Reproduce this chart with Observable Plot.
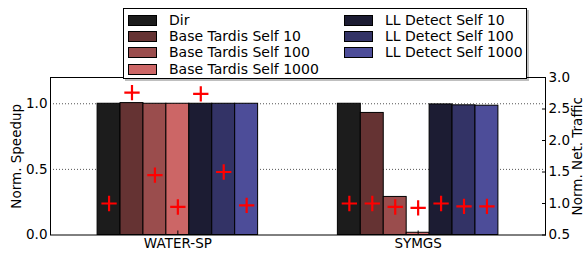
<!DOCTYPE html>
<html><head><meta charset="utf-8">
<script src="https://cdn.jsdelivr.net/npm/d3@7"></script>
<script src="https://cdn.jsdelivr.net/npm/@observablehq/plot@0.6"></script>
<style>
body{margin:0;background:#fff;}
#wrap{position:relative;width:584px;height:253px;font-family:"DejaVu Sans";}
#axes,#bars{position:absolute;left:0;top:0;}
#legend{position:absolute;left:123px;top:8px;width:402px;height:69px;border:1px solid #000;background:#fff;box-shadow:2px 2px 0 rgba(0,0,0,0.25);font-size:14px;color:#000;}
.item{position:absolute;height:16px;line-height:16px;white-space:nowrap;}
.sw{position:absolute;left:0;top:3px;width:27px;height:9px;border:1px solid #000;}
.lab{position:absolute;left:41px;top:0;}
</style></head><body><div id="wrap"><div id="axes"></div><div id="bars"></div><div id="legend"></div></div>
<script>
const groups = ["WATER-SP", "SYMGS"];
const series = ["Dir", "Base Tardis Self 10", "Base Tardis Self 100", "Base Tardis Self 1000", "LL Detect Self 10", "LL Detect Self 100", "LL Detect Self 1000"];
const colors = ["#1c1c1c", "#653333", "#9a4d4d", "#cc6666", "#1c1c33", "#333366", "#4d4d99"];
const speedupWater = [1.0, 1.005, 1.0, 1.0, 1.0, 1.0, 1.0];
const speedupSymgs = [1.0, 0.93, 0.29, 0.017, 0.995, 0.988, 0.985];
const trafficWater = [1.0, 2.76, 1.45, 0.945, 2.74, 1.50, 0.97];
const trafficSymgs = [1.0, 1.0, 0.945, 0.93, 1.0, 0.955, 0.955];
const leftTicks = [0.0, 0.5, 1.0];
const gridTicks = [0.5, 1.0];
const rightTicks = [0.5, 1.0, 1.5, 2.0, 2.5, 3.0];
const leftDomain = [0, 1.2];
const rightDomain = [0.5, 3.0];

const speedup = [speedupWater, speedupSymgs];
const traffic = [trafficWater, trafficSymgs];
const toLeft = t => (t - rightDomain[0]) / (rightDomain[1] - rightDomain[0]) * (leftDomain[1] - leftDomain[0]) + leftDomain[0];
const fromLeft = v => (v - leftDomain[0]) / (leftDomain[1] - leftDomain[0]) * (rightDomain[1] - rightDomain[0]) + rightDomain[0];

const rows = [];
groups.forEach((g, gi) => series.forEach((s, si) => rows.push({group: g, series: s, speedup: speedup[gi][si], traffic: traffic[gi][si]})));

const dims = {width: 584, height: 253, marginLeft: 50, marginRight: 39, marginTop: 77, marginBottom: 18.5};
const style = {fontFamily: "DejaVu Sans", fontSize: "13.5px", background: "transparent", overflow: "visible", color: "#000"};

// frame, grid and both y axes
const axes = Plot.plot({
  ...dims, style,
  y: {domain: leftDomain},
  marks: [
    Plot.ruleY(gridTicks, {stroke: "#555", strokeDasharray: "1,2"}),
    Plot.axisY({anchor: "left", ticks: leftTicks, tickFormat: ".1f", tickSize: 0, tickPadding: 3, label: "Norm. Speedup", labelArrow: "none", labelAnchor: "center", labelOffset: 39}),
    Plot.axisY({anchor: "right", ticks: rightTicks.map(toLeft), tickFormat: v => fromLeft(v).toFixed(1), tickSize: -4, tickPadding: 7, label: "Norm. Net. Traffic", labelArrow: "none", labelAnchor: "center", labelOffset: 36}),
    Plot.frame({stroke: "#000"})
  ]
});
document.getElementById("axes").appendChild(axes);

// grouped bars and traffic crosses
const bars = Plot.plot({
  ...dims, style,
  fx: {domain: groups, paddingInner: 0.332, paddingOuter: 0.196, round: false, label: null},
  x: {domain: series, padding: 0, round: false, axis: null},
  y: {domain: leftDomain, axis: null},
  color: {domain: series, range: colors},
  marks: [
    Plot.barY(rows, {fx: "group", x: "series", y: "speedup", fill: "series", stroke: "#000", strokeWidth: 1}),
    Plot.dot(rows, {fx: "group", x: "series", y: d => toLeft(d.traffic), symbol: "plus", r: 5, stroke: "red", strokeWidth: 2.2}),
    Plot.axisFx({anchor: "bottom", tickSize: -4, tickPadding: 7, label: null})
  ]
});
document.getElementById("bars").appendChild(bars);

const legend = document.getElementById("legend");
const layout = [[0,0],[0,1],[0,2],[0,3],[1,0],[1,1],[1,2]];
series.forEach((s, i) => {
  const [c, r] = layout[i];
  const item = document.createElement("div");
  item.className = "item";
  item.style.left = (c === 0 ? 4 : 220) + "px";
  item.style.top = (3 + r * 16.2) + "px";
  item.innerHTML = `<div class="sw" style="background:${colors[i]}"></div><div class="lab">${s}</div>`;
  legend.appendChild(item);
});
</script></body></html>
